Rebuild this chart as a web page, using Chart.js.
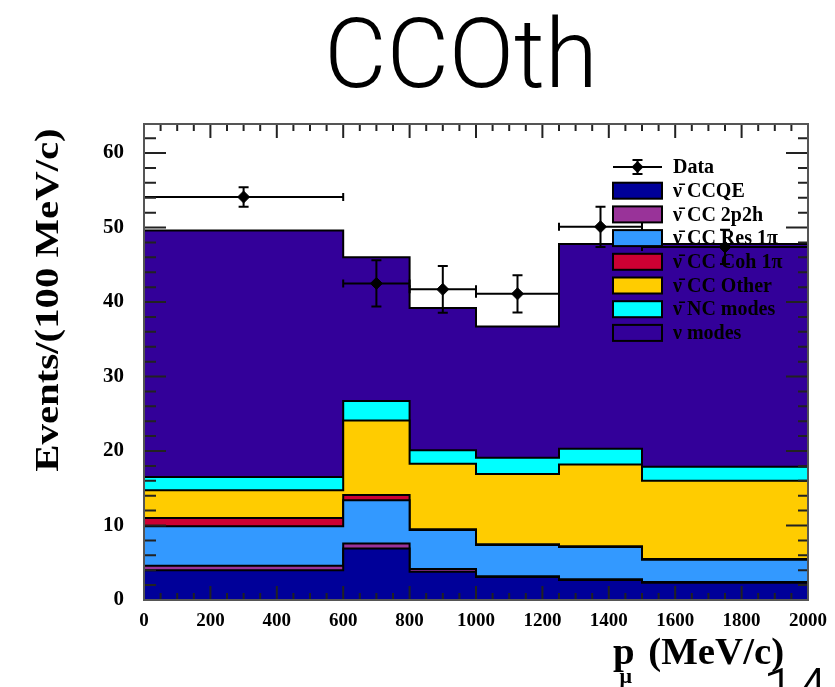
<!DOCTYPE html>
<html>
<head>
<meta charset="utf-8">
<script src="https://cdn.jsdelivr.net/npm/chart.js@4.4.1/dist/chart.umd.min.js"></script>
<style>
  html, body { margin: 0; padding: 0; background: #ffffff; }
  #wrap { position: relative; width: 835px; height: 687px; }
  canvas { display: block; }
</style>
</head>
<body>
<div id="wrap"><canvas id="c" width="835" height="687"></canvas></div>
<script>
// Muon momentum bins (MeV/c), variable width
const binEdges = [0, 600, 800, 1000, 1250, 1500, 2000];

// Simulated components, events per 100 MeV/c, stacked bottom-up
const ccqe    = [4.0, 6.9, 3.8, 3.1, 2.7, 2.3];
const cc2p2h  = [0.6, 0.7, 0.35, 0.1, 0.1, 0.1];
const ccRes   = [5.3, 5.8, 5.25, 4.2, 4.3, 3.0];
const ccCoh   = [1.1, 0.7, 0.1, 0.1, 0.1, 0.1];
const ccOther = [3.75, 10.0, 8.8, 9.4, 11.0, 10.5];
const ncModes = [1.75, 2.6, 1.8, 2.2, 2.1, 1.9];
const nuModes = [33.1, 19.3, 19.1, 17.6, 27.5, 29.9];

// Measured data with statistical errors
const dataX   = [300, 700, 900, 1125, 1375, 1750];
const dataY   = [54.1, 42.5, 41.7, 41.1, 50.1, 47.4];
const dataErr = [1.3, 3.1, 3.15, 2.5, 2.7, 2.3];

// Axis tick labels
const xTickValues = [0, 200, 400, 600, 800, 1000, 1200, 1400, 1600, 1800, 2000];
const yTickValues = [0, 10, 20, 30, 40, 50, 60];

const componentNames  = ['\u03BD\u0304 CCQE', '\u03BD\u0304 CC 2p2h', '\u03BD\u0304 CC Res 1\u03C0',
                         '\u03BD\u0304 CC Coh 1\u03C0', '\u03BD\u0304 CC Other', '\u03BD\u0304 NC modes', '\u03BD modes'];
const componentValues = [ccqe, cc2p2h, ccRes, ccCoh, ccOther, ncModes, nuModes];
const componentColors = ['#000099', '#993399', '#3399ff', '#cc0033', '#ffcc00', '#00ffff', '#330099'];

// Running sums give the top edge of each stacked layer
const stackTops = [];
let running = binEdges.slice(0, -1).map(() => 0);
componentValues.forEach(vals => {
  running = running.map((r, i) => r + vals[i]);
  stackTops.push(running.slice());
});

function stepPoints(tops) {
  return binEdges.map((e, i) => ({ x: e, y: tops[Math.min(i, tops.length - 1)] }));
}

const SERIF = '"Liberation Serif", "Times New Roman", serif';

const datasets = [{
  label: 'Data',
  data: dataX.map((x, i) => ({ x: x, y: dataY[i] })),
  showLine: false,
  pointStyle: 'rectRot',
  pointRadius: 6,
  pointBackgroundColor: '#000',
  pointBorderColor: '#000',
  borderColor: '#000',
  backgroundColor: '#000'
}];
componentNames.forEach((name, k) => {
  datasets.push({
    label: name,
    data: stepPoints(stackTops[k]),
    stepped: 'before',
    fill: 'origin',
    backgroundColor: componentColors[k],
    borderColor: '#000',
    borderWidth: 2,
    pointRadius: 0,
    borderJoinStyle: 'miter'
  });
});

// Error bars on the data points (bin width horizontally, stat error vertically)
const errorBars = {
  id: 'errorBars',
  afterDatasetsDraw(chart) {
    const ctx = chart.ctx, xs = chart.scales.x, ys = chart.scales.y;
    ctx.save();
    ctx.strokeStyle = '#000';
    ctx.lineWidth = 2;
    dataX.forEach((x, i) => {
      const xl = xs.getPixelForValue(binEdges[i]);
      const xr = xs.getPixelForValue(binEdges[i + 1]);
      const xc = xs.getPixelForValue(x);
      const y = ys.getPixelForValue(dataY[i]);
      const yt = ys.getPixelForValue(dataY[i] + dataErr[i]);
      const yb = ys.getPixelForValue(dataY[i] - dataErr[i]);
      ctx.beginPath();
      ctx.moveTo(xl, y); ctx.lineTo(xr, y);
      ctx.moveTo(xl, y - 4); ctx.lineTo(xl, y + 4);
      ctx.moveTo(xr, y - 4); ctx.lineTo(xr, y + 4);
      ctx.moveTo(xc, yt); ctx.lineTo(xc, yb);
      ctx.moveTo(xc - 5, yt); ctx.lineTo(xc + 5, yt);
      ctx.moveTo(xc - 5, yb); ctx.lineTo(xc + 5, yb);
      ctx.stroke();
    });
    ctx.restore();
  }
};

// Frame with inward major/minor ticks on all four sides
const frameTicks = {
  id: 'frameTicks',
  afterDatasetsDraw(chart) {
    const ctx = chart.ctx, xs = chart.scales.x, ys = chart.scales.y;
    const a = chart.chartArea;
    ctx.save();
    ctx.strokeStyle = '#222';
    ctx.lineWidth = 2;
    ctx.beginPath();
    const xMaj = xs.ticks.map(t => t.value);
    for (let i = 0; i < xMaj.length; i++) {
      const px = xs.getPixelForValue(xMaj[i]);
      ctx.moveTo(px, a.bottom); ctx.lineTo(px, a.bottom - 14);
      ctx.moveTo(px, a.top); ctx.lineTo(px, a.top + 14);
      if (i < xMaj.length - 1) {
        const step = (xMaj[i + 1] - xMaj[i]) / 4;
        for (let m = 1; m < 4; m++) {
          const pm = xs.getPixelForValue(xMaj[i] + m * step);
          ctx.moveTo(pm, a.bottom); ctx.lineTo(pm, a.bottom - 7);
          ctx.moveTo(pm, a.top); ctx.lineTo(pm, a.top + 7);
        }
      }
    }
    const yMaj = ys.ticks.map(t => t.value);
    const yMajStep = yMaj[1] - yMaj[0];
    const yStep = yMajStep / 5;
    for (let v = 0; v <= ys.max + 1e-9; v += yStep) {
      const py = ys.getPixelForValue(v);
      const r = v / yMajStep;
      const major = Math.abs(r - Math.round(r)) < 1e-6;
      const lenL = major ? 22 : 12, lenR = major ? 22 : 10;
      ctx.moveTo(a.left, py); ctx.lineTo(a.left + lenL, py);
      ctx.moveTo(a.right, py); ctx.lineTo(a.right - lenR, py);
    }
    ctx.stroke();
    ctx.strokeStyle = '#555';
    ctx.strokeRect(a.left, a.top, a.right - a.left, a.bottom - a.top);
    ctx.restore();
  }
};

// Legend drawn inside the frame, built from the dataset list
const stackLegend = {
  id: 'stackLegend',
  afterDraw(chart) {
    const ctx = chart.ctx;
    const x0 = 613, w = 49, h = 16, textX = 673, y0 = 167, dy = 23.7;
    ctx.save();
    ctx.font = 'bold 20px ' + SERIF;
    ctx.textBaseline = 'middle';
    ctx.textAlign = 'left';
    chart.data.datasets.forEach((ds, i) => {
      const yc = y0 + i * dy;
      if (i === 0) {
        ctx.strokeStyle = '#000'; ctx.lineWidth = 2;
        ctx.beginPath();
        ctx.moveTo(x0, yc); ctx.lineTo(x0 + w, yc);
        const xc = x0 + w / 2;
        ctx.moveTo(xc, yc - 7); ctx.lineTo(xc, yc + 7);
        ctx.moveTo(xc - 5, yc - 7); ctx.lineTo(xc + 5, yc - 7);
        ctx.moveTo(xc - 5, yc + 7); ctx.lineTo(xc + 5, yc + 7);
        ctx.stroke();
        ctx.fillStyle = '#000';
        ctx.beginPath();
        ctx.moveTo(xc, yc - 6); ctx.lineTo(xc + 6, yc); ctx.lineTo(xc, yc + 6); ctx.lineTo(xc - 6, yc);
        ctx.closePath(); ctx.fill();
      } else {
        ctx.fillStyle = ds.backgroundColor;
        ctx.fillRect(x0, yc - h / 2, w, h);
        ctx.strokeStyle = '#000'; ctx.lineWidth = 2;
        ctx.strokeRect(x0, yc - h / 2, w, h);
      }
      ctx.fillStyle = '#000';
      ctx.fillText(ds.label, textX, yc + 1);
    });
    ctx.restore();
  }
};

// Slide title, axis titles and page number
const annotations = {
  id: 'annotations',
  afterDraw(chart) {
    const ctx = chart.ctx;
    ctx.save();
    ctx.fillStyle = '#000';
    ctx.textAlign = 'center';
    ctx.textBaseline = 'alphabetic';
    ctx.font = '300 96px Roboto, "Liberation Sans", sans-serif';
    ctx.fillText('CCOth', 461, 87);

    // vertical axis title
    ctx.save();
    ctx.translate(49, 300);
    ctx.rotate(-Math.PI / 2);
    ctx.scale(1.2, 1);
    ctx.font = 'bold 34px ' + SERIF;
    ctx.textBaseline = 'middle';
    ctx.fillText('Events/(100 MeV/c)', 0, 0);
    ctx.restore();

    // horizontal axis title with subscript
    ctx.save();
    ctx.textAlign = 'left';
    ctx.translate(613, 664);
    ctx.scale(1.05, 1);
    ctx.font = 'bold 37px ' + SERIF;
    ctx.fillText('p', 0, 0);
    const pw = ctx.measureText('p').width;
    ctx.font = 'bold 21px ' + SERIF;
    ctx.fillText('\u03BC', pw * 0.3, 19);
    ctx.font = 'bold 37px ' + SERIF;
    ctx.fillText('(MeV/c)', pw + 13, 0);
    ctx.restore();

    ctx.textAlign = 'left';
    ctx.font = '300 58px Roboto, "Liberation Sans", sans-serif';
    ctx.fillText('14', 763, 709);
    ctx.restore();
  }
};

new Chart(document.getElementById('c'), {
  type: 'line',
  data: { datasets: datasets },
  options: {
    responsive: false,
    animation: false,
    events: [],
    layout: { padding: { top: 124, right: 27, left: 0, bottom: 0 } },
    plugins: { legend: { display: false }, tooltip: { enabled: false }, title: { display: false } },
    scales: {
      x: {
        type: 'linear',
        min: 0, max: 2000,
        grid: { display: false },
        border: { display: false },
        afterFit: s => { s.height = 87; },
        afterBuildTicks: s => { s.ticks = xTickValues.map(v => ({ value: v })); },
        ticks: { color: '#000', padding: 2, maxRotation: 0, autoSkip: false,
                 callback: v => String(v),
                 font: { family: SERIF, size: 19, weight: 'bold' } }
      },
      y: {
        type: 'linear',
        min: 0, max: 63.9,
        grid: { display: false },
        border: { display: false },
        afterFit: s => { s.width = 144; },
        afterBuildTicks: s => { s.ticks = yTickValues.map(v => ({ value: v })); },
        ticks: { color: '#000', padding: 12, autoSkip: false,
                 callback: v => String(v),
                 font: { family: SERIF, size: 21, weight: 'bold' } }
      }
    }
  },
  plugins: [errorBars, frameTicks, stackLegend, annotations]
});
</script>
</body>
</html>
